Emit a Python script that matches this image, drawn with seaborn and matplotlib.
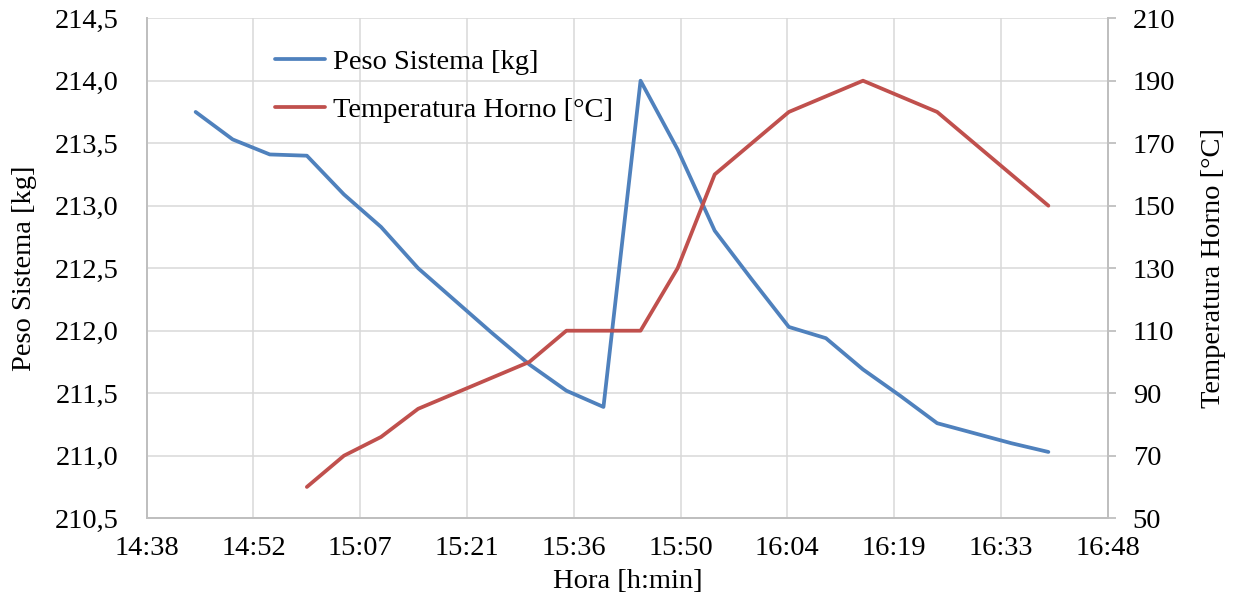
import matplotlib
matplotlib.use("Agg")
import matplotlib.pyplot as plt
import matplotlib.ticker as mticker
import seaborn as sns
import pandas as pd

# ---- data ----
peso_times = ["14:45", "14:50", "14:55", "15:00", "15:05", "15:10", "15:15", "15:20",
              "15:25", "15:30", "15:35", "15:40", "15:45", "15:50", "15:55", "16:00",
              "16:05", "16:10", "16:15", "16:20", "16:25", "16:30", "16:35", "16:40"]
peso_kg = [213.75, 213.53, 213.41, 213.40, 213.09, 212.83, 212.50, 212.24,
           211.98, 211.73, 211.52, 211.39, 214.00, 213.45, 212.80, 212.41,
           212.03, 211.94, 211.69, 211.48, 211.26, 211.18, 211.10, 211.03]

temp_times = ["15:00", "15:05", "15:10", "15:15", "15:20", "15:25", "15:30", "15:35",
              "15:40", "15:45", "15:50", "15:55", "16:00", "16:05", "16:10", "16:15",
              "16:20", "16:25", "16:30", "16:35", "16:40"]
temp_c = [60, 70, 76, 85, 90, 95, 100, 110, 110, 110, 130, 160, 170, 180, 185, 190,
          185, 180, 170, 160, 150]

x_ticks = [0.61, 0.62, 0.63, 0.64, 0.65, 0.66, 0.67, 0.68, 0.69, 0.70]
left_ticks = [210.5, 211.0, 211.5, 212.0, 212.5, 213.0, 213.5, 214.0, 214.5]
right_ticks = [50, 70, 90, 110, 130, 150, 170, 190, 210]

label_peso = "Peso Sistema [kg]"
label_temp = "Temperatura Horno [°C]"
label_x = "Hora [h:min]"


def to_day(s):
    h, m = s.split(":")
    return (int(h) * 60 + int(m)) / 1440.0


df_peso = pd.DataFrame({"t": [to_day(s) for s in peso_times], "v": peso_kg})
df_temp = pd.DataFrame({"t": [to_day(s) for s in temp_times], "v": temp_c})

sns.set_theme(style="white")
plt.rcParams["font.family"] = ["Liberation Serif", "DejaVu Serif"]
plt.rcParams["text.color"] = "black"
plt.rcParams["axes.labelcolor"] = "black"
FS = 20.5

BLUE = "#4F81BD"
RED = "#C0504D"
SPINE = "#BFBFBF"
GRID = "#D9D9D9"

fig = plt.figure(figsize=(12.33, 5.99), dpi=100)
ax = fig.add_axes([146.7 / 1233, 1 - 518.2 / 599, (1107.7 - 146.7) / 1233, 500 / 599])
ax2 = ax.twinx()

sns.lineplot(data=df_peso, x="t", y="v", ax=ax, color=BLUE, linewidth=2.7,
             label=label_peso, legend=False)
sns.lineplot(data=df_temp, x="t", y="v", ax=ax2, color=RED, linewidth=2.7,
             label=label_temp, legend=False)

ax.set_xlim(0.61, 0.70)
ax.set_ylim(210.5, 214.5)
ax2.set_ylim(50, 210)
ax.set_xticks(x_ticks)
ax.set_yticks(left_ticks)
ax2.set_yticks(right_ticks)


def fmt_time(v, pos=None):
    mins = round(v * 1440, 4)
    h = int(mins // 60)
    m = int(mins % 60)
    return f"{h}:{m:02d}"


ax.xaxis.set_major_formatter(mticker.FuncFormatter(fmt_time))
ax.yaxis.set_major_formatter(mticker.FuncFormatter(lambda v, p: f"{v:.1f}".replace(".", ",")))
ax2.yaxis.set_major_formatter(mticker.FuncFormatter(lambda v, p: f"{int(v)}"))

ax.grid(True, color=GRID, linewidth=1.1)
ax2.grid(False)
ax.set_axisbelow(True)

for a in (ax, ax2):
    a.spines["top"].set_visible(False)
    for side in ("left", "bottom", "right"):
        a.spines[side].set_color(SPINE)
        a.spines[side].set_linewidth(1.3)

ax.tick_params(axis="x", length=0, pad=13, labelsize=FS, colors="black")
ax.tick_params(axis="y", length=0, pad=20, labelsize=FS, colors="black")
ax2.tick_params(axis="y", direction="out", length=6, width=1.3, color=SPINE,
                pad=12, labelsize=FS, labelcolor="black")

ax.set_xlabel(label_x, fontsize=FS)
ax.set_ylabel(label_peso, fontsize=FS)
ax2.set_ylabel(label_temp, fontsize=FS)
ax.xaxis.label.set_verticalalignment("center")
ax.yaxis.label.set_verticalalignment("center")
ax2.yaxis.label.set_verticalalignment("center")
ax.xaxis.set_label_coords((628 - 146.7) / 961, (518.2 - 582) / 500)
ax.yaxis.set_label_coords((25 - 146.7) / 961, 0.5)
ax2.yaxis.set_label_coords((1213 - 146.7) / 961, 0.5)

h1, l1 = ax.get_legend_handles_labels()
h2, l2 = ax2.get_legend_handles_labels()
fig.legend(h1 + h2, l1 + l2, loc="center left",
           bbox_to_anchor=(275 / 1233, 1 - 86 / 599),
           frameon=False, fontsize=FS, handlelength=1.75, handletextpad=0.3,
           labelspacing=0.8, borderpad=0, borderaxespad=0)

fig.savefig("out.png", dpi=100)
